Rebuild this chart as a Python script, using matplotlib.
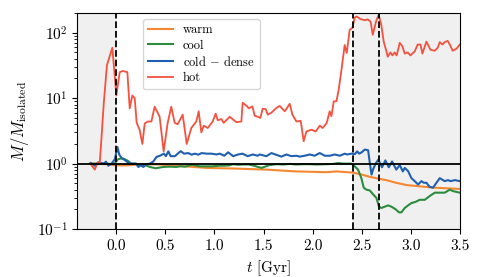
import matplotlib
matplotlib.use("Agg")
import matplotlib.pyplot as plt
import numpy as np

plt.rcParams["font.family"] = "serif"
plt.rcParams["font.serif"] = ["cmr10"]
plt.rcParams["mathtext.fontset"] = "cm"
plt.rcParams["axes.formatter.use_mathtext"] = True
plt.rcParams["font.size"] = 11

# hot
t_hot = [-0.265, -0.22, -0.19, -0.17, -0.153, -0.128, -0.096, -0.041, 0.0, 0.034, 0.065, 0.112,
         0.136, 0.163, 0.187, 0.207, 0.237, 0.265, 0.289, 0.320, 0.357, 0.390, 0.421, 0.441,
         0.482, 0.523, 0.560, 0.594, 0.625, 0.676, 0.717, 0.764, 0.815, 0.839, 0.866, 0.890,
         0.931, 0.982, 1.012, 1.033, 1.070, 1.094, 1.155, 1.223, 1.274, 1.287, 1.325, 1.349,
         1.386, 1.410, 1.440, 1.468, 1.491, 1.522, 1.543, 1.580, 1.631, 1.665, 1.716, 1.767,
         1.794, 1.835, 1.879, 1.909, 1.937, 1.988, 2.032, 2.073, 2.103, 2.144, 2.174, 2.192,
         2.215, 2.243, 2.266, 2.294, 2.327, 2.348, 2.378, 2.406, 2.429, 2.449, 2.487, 2.531,
         2.562, 2.592, 2.613, 2.650, 2.674, 2.701, 2.725, 2.752, 2.766, 2.793, 2.813, 2.837,
         2.857, 2.888, 2.915, 2.939, 2.969, 2.997, 3.041, 3.071, 3.099, 3.119, 3.160, 3.201,
         3.245, 3.275, 3.296, 3.323, 3.347, 3.377, 3.398, 3.428, 3.466, 3.5]
m_hot = [1.0, 0.81, 1.05, 1.0, 2.3, 8.5, 32, 59, 11, 25, 26, 25,
         7, 11, 10, 4.2, 3.3, 2.0, 4.1, 4.4, 4.4, 7.4, 6, 5.2,
         1.54, 4.2, 7.4, 4.2, 4.0, 5.6, 2.0, 3.5, 4.4, 6.3, 3.0, 3.8,
         3.5, 4.4, 5.8, 4.6, 4.8, 4.2, 5.2, 4.3, 4.4, 8.5, 7.7, 7.0,
         7.5, 5.4, 5.2, 5.0, 6.9, 6.8, 5.6, 6.0, 7.1, 7.6, 6.3, 8.2,
         5.6, 4.4, 4.5, 2.2, 3.1, 3.3, 3.1, 3.8, 3.5, 4.2, 6.3, 5.3,
         8.9, 9.0, 13.5, 27, 65, 49, 111, 119, 170, 177, 162, 155,
         160, 147, 93, 155, 188, 129, 73, 52, 43, 50, 45, 50,
         45, 70, 62, 48, 50, 45, 52, 66, 66, 48, 73, 55,
         53, 59, 72, 66, 72, 75, 66, 53, 57, 66]

# cold-dense
t_cd = [-0.26, -0.22, -0.18, -0.13, -0.106, -0.082, -0.048, -0.014, 0.01, 0.03, 0.054, 0.088,
        0.122, 0.156, 0.20, 0.224, 0.248, 0.275, 0.309, 0.343, 0.377, 0.41, 0.445, 0.485,
        0.505, 0.53, 0.553, 0.597, 0.632, 0.656, 0.69, 0.733, 0.767, 0.80, 0.835, 0.869,
        0.92, 0.97, 1.02, 1.054, 1.10, 1.139, 1.19, 1.241, 1.285, 1.339, 1.39, 1.441,
        1.461, 1.529, 1.58, 1.682, 1.733, 1.784, 1.835, 1.869, 1.92, 1.971, 2.02, 2.073,
        2.124, 2.175, 2.226, 2.277, 2.328, 2.352, 2.397, 2.431, 2.454, 2.475, 2.50, 2.532,
        2.566, 2.583, 2.601, 2.618, 2.642, 2.67, 2.707, 2.742, 2.776, 2.81, 2.853, 2.888,
        2.92, 2.939, 2.973, 3.007, 3.041, 3.075, 3.109, 3.133, 3.16, 3.194, 3.228, 3.262,
        3.296, 3.347, 3.381, 3.405, 3.45, 3.5]
m_cd = [1.02, 0.93, 1.05, 1.0, 1.07, 0.93, 1.0, 1.18, 1.8, 1.37, 1.22, 1.13,
        1.03, 1.0, 1.0, 0.89, 0.94, 0.89, 0.98, 1.0, 1.08, 1.27, 1.32, 1.42,
        1.3, 1.54, 1.3, 1.3, 1.45, 1.55, 1.42, 1.45, 1.37, 1.42, 1.37, 1.45,
        1.42, 1.42, 1.38, 1.42, 1.32, 1.49, 1.3, 1.38, 1.42, 1.3, 1.38, 1.32,
        1.38, 1.3, 1.45, 1.28, 1.38, 1.3, 1.32, 1.28, 1.32, 1.38, 1.32, 1.45,
        1.32, 1.32, 1.38, 1.32, 1.42, 1.38, 1.42, 1.40, 1.54, 1.42, 1.49, 1.64,
        1.6, 1.02, 0.68, 0.83, 1.0, 1.15, 0.88, 1.12, 0.88, 1.08, 0.81, 0.95,
        0.76, 0.86, 0.77, 0.6, 0.54, 0.48, 0.54, 0.51, 0.51, 0.44, 0.43, 0.51,
        0.6, 0.54, 0.56, 0.54, 0.56, 0.54]

# cool
t_cool = [-0.27, -0.1, -0.02, 0.01, 0.045, 0.08, 0.118, 0.152, 0.203, 0.238, 0.29, 0.34,
          0.4, 0.48, 0.545, 0.61, 0.65, 0.70, 0.77, 0.85, 0.92, 0.975, 1.05, 1.10,
          1.15, 1.19, 1.24, 1.29, 1.35, 1.40, 1.48, 1.56, 1.63, 1.70, 1.77, 1.83,
          1.90, 1.97, 2.04, 2.14, 2.21, 2.26, 2.31, 2.35, 2.395, 2.429, 2.463, 2.497,
          2.521, 2.548, 2.582, 2.616, 2.650, 2.677, 2.701, 2.735, 2.769, 2.803, 2.847, 2.881,
          2.905, 2.939, 2.973, 3.007, 3.048, 3.092, 3.143, 3.194, 3.245, 3.296, 3.347, 3.398,
          3.432, 3.466, 3.5]
m_cool = [1.0, 1.0, 0.98, 1.15, 1.2, 1.18, 1.1, 1.0, 0.99, 0.94, 0.96, 0.89,
          0.85, 0.89, 0.9, 0.89, 0.91, 0.9, 0.96, 0.91, 0.91, 0.91, 0.93, 0.93,
          0.94, 0.98, 0.96, 0.97, 0.97, 0.93, 0.86, 0.95, 0.98, 0.97, 0.99, 0.97,
          0.98, 0.98, 0.97, 0.98, 0.99, 1.02, 1.0, 1.0, 1.0, 0.91, 0.81, 0.6,
          0.43, 0.4, 0.39, 0.34, 0.30, 0.22, 0.21, 0.22, 0.23, 0.22, 0.2, 0.18,
          0.18, 0.21, 0.23, 0.25, 0.26, 0.28, 0.28, 0.32, 0.36, 0.36, 0.36, 0.40,
          0.38, 0.37, 0.36]

# warm
t_warm = [-0.27, -0.1, 0.0, 0.1, 0.27, 0.44, 0.61, 0.92, 1.22, 1.53, 1.83, 2.14,
          2.24, 2.41, 2.50, 2.58, 2.67, 2.75, 2.85, 2.96, 3.09, 3.23, 3.5]
m_warm = [1.0, 0.98, 0.94, 0.94, 0.98, 0.97, 0.93, 0.86, 0.84, 0.81, 0.76, 0.74,
          0.76, 0.73, 0.68, 0.63, 0.59, 0.56, 0.51, 0.47, 0.45, 0.43, 0.41]

t_events = [0.0, 2.41, 2.675]

c_warm = "#f5872f"
c_cool = "#2b8c3e"
c_cd = "#2060b0"
c_hot = "#f4513e"

fig, ax = plt.subplots(figsize=(4.85, 2.77), dpi=100)
ax.axvspan(-0.4, 0.0, color="#f0f0f0", zorder=0)
ax.axvspan(t_events[1], 3.5, color="#f0f0f0", zorder=0)

ax.plot(t_warm, m_warm, color=c_warm, lw=1.5, label="warm")
ax.plot(t_cool, m_cool, color=c_cool, lw=1.5, label="cool")
ax.plot(t_cd, m_cd, color=c_cd, lw=1.5, label=r"cold $-$ dense")
ax.plot(t_hot, m_hot, color=c_hot, lw=1.3, label="hot")

ax.axhline(1.0, color="k", lw=1.3)
for te in t_events:
    ax.axvline(te, color="k", ls="--", lw=1.3)

ax.set_yscale("log")
ax.set_xlim(-0.4, 3.5)
ax.set_ylim(0.1, 200)
ax.set_xticks([0.0, 0.5, 1.0, 1.5, 2.0, 2.5, 3.0, 3.5])
ax.set_xticklabels(["0.0", "0.5", "1.0", "1.5", "2.0", "2.5", "3.0", "3.5"])
ax.set_xlabel(r"$t$ [Gyr]")
ax.set_ylabel(r"$M/M_{\rm isolated}$", fontsize=12)
ax.legend(loc="upper left", bbox_to_anchor=(0.155, 1.0), fontsize=9, handlelength=2.0,
          labelspacing=0.25, borderpad=0.4)

plt.subplots_adjust(left=0.159, right=0.948, top=0.953, bottom=0.173)
plt.savefig("out.png", dpi=100)
